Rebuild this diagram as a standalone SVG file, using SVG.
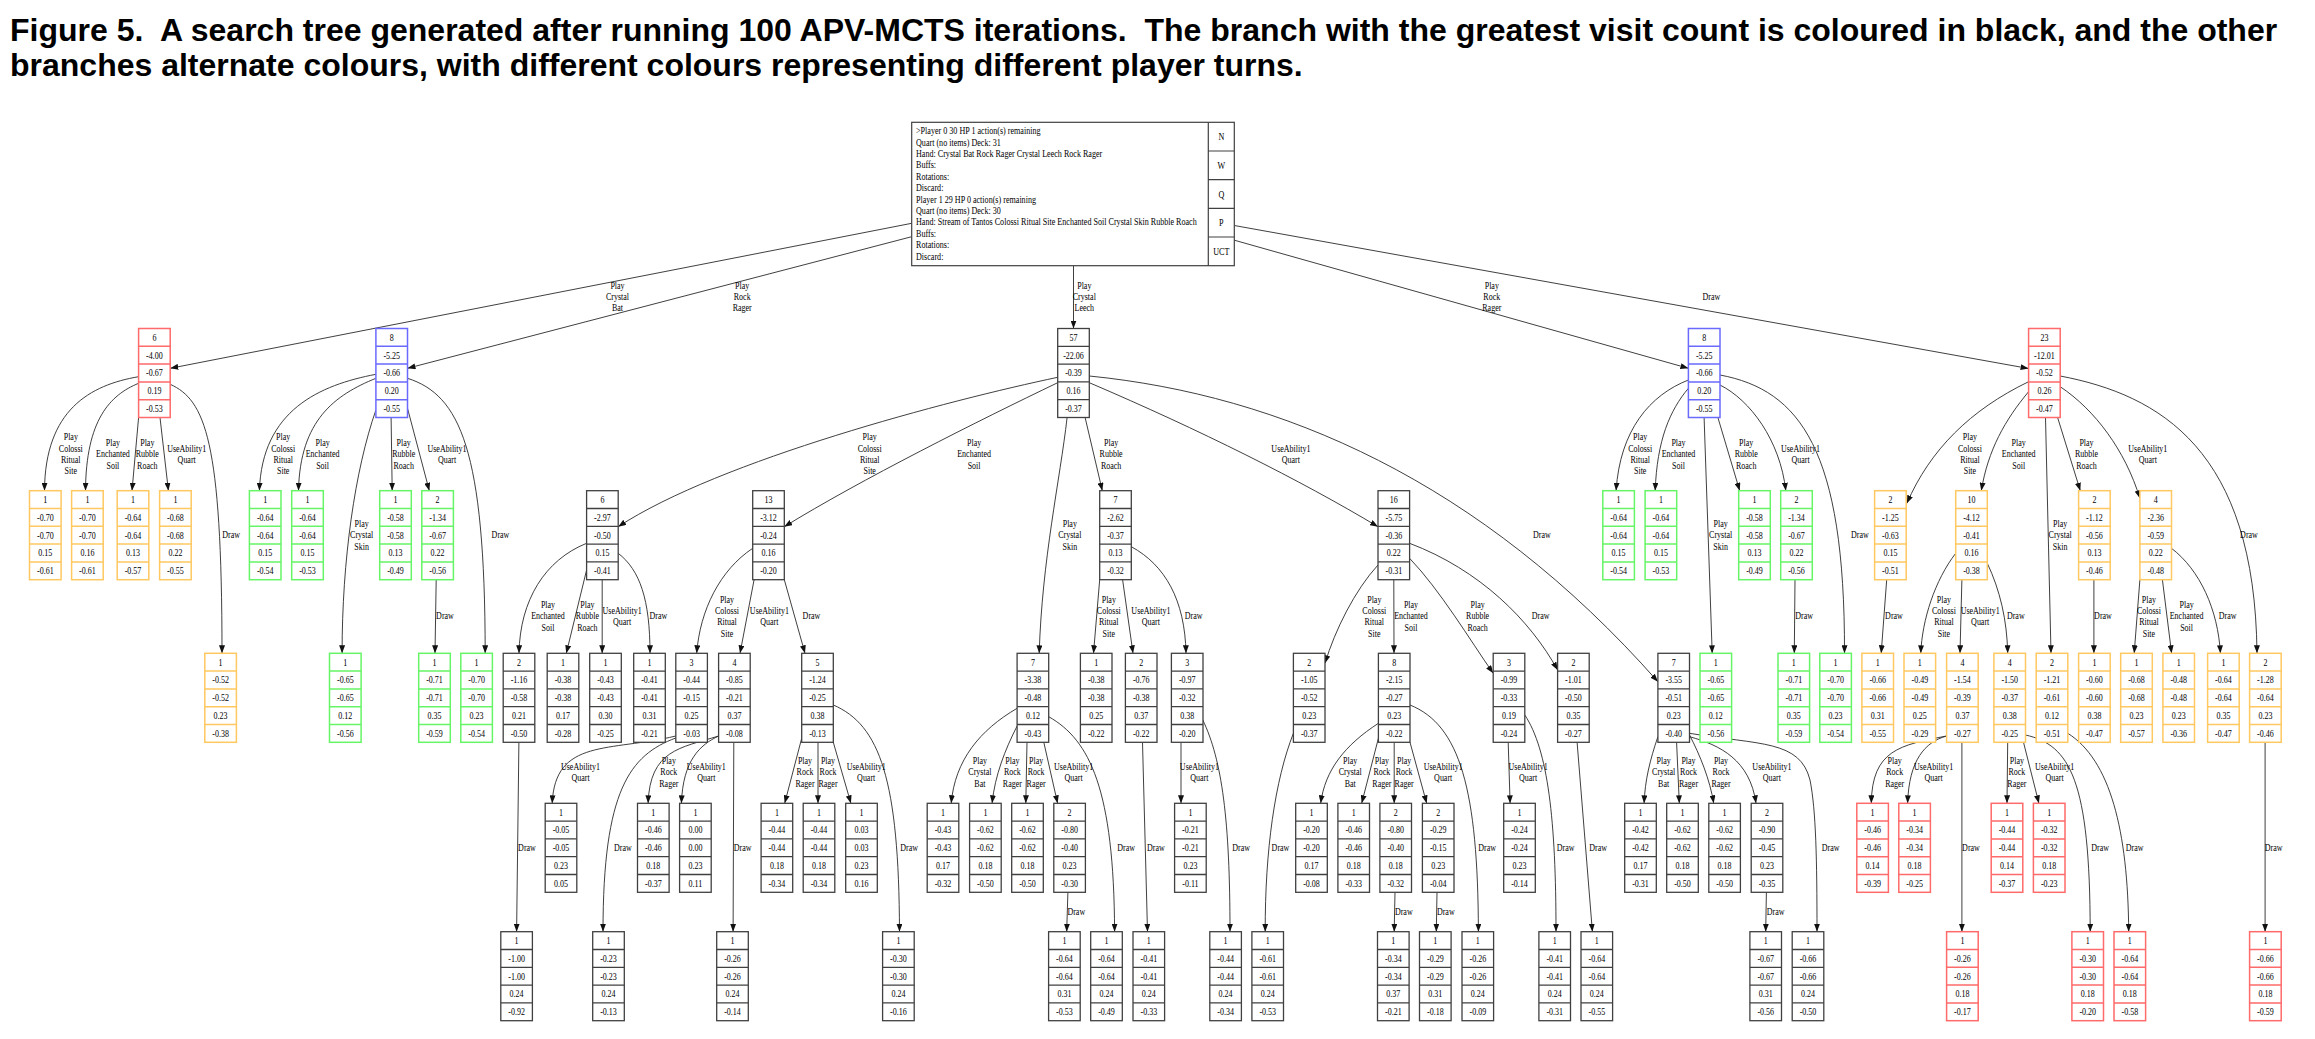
<svg xmlns="http://www.w3.org/2000/svg" width="2315" height="1039" viewBox="0 0 2315 1039">
<style>
text{font-family:"Liberation Serif","Times New Roman",serif;font-size:10px;fill:#000}
.ti{font-family:"Liberation Sans",Arial,sans-serif;font-weight:bold;font-size:32px;white-space:pre}
.n text,.l,.m{text-anchor:middle}
.v{transform:translate(15.8px,0px) scale(.8,1)}
.k{stroke:#404040;stroke-width:1.3}
.r{stroke:#ff6a6a;stroke-width:1.5}
.b{stroke:#6a6aff;stroke-width:1.5}
.g{stroke:#66f566;stroke-width:1.5}
.o{stroke:#ffc860;stroke-width:1.5}
#edges path{fill:none;stroke:#2a2a2a;stroke-width:.9;marker-end:url(#ah)}
</style>
<defs>
<marker id="ah" viewBox="0 0 8 6" refX="8" refY="3" markerWidth="8" markerHeight="6" markerUnits="userSpaceOnUse" orient="auto"><path d="M0,0L8,3L0,6z" fill="#111"/></marker>
<g id="bx"><rect width="31.6" height="89" fill="#fff"/><path d="M0,17.8h31.6M0,35.6h31.6M0,53.4h31.6M0,71.2h31.6" fill="none"/></g>
</defs>
<rect width="2315" height="1039" fill="#fff"/>
<text class="ti" x="10" y="41">Figure 5.  A search tree generated after running 100 APV-MCTS iterations.  The branch with the greatest visit count is coloured in black, and the other</text>
<text class="ti" x="10" y="76">branches alternate colours, with different colours representing different player turns.</text>

<g id="edges">
<path d="M911.7,223.3L170.3,368.3"/>
<path d="M911.7,236.7L407.5,368.3"/>
<path d="M1073.5,265.7L1073.5,328.5"/>
<path d="M1234.3,240.2L1688.4,368.3"/>
<path d="M1234.3,225.5L2028.6,368.5"/>
<path d="M138.6,376.7C90,385 45,410 44.5,490.7"/>
<path d="M138.6,383.3C110,395 86,420 85.5,490.7"/>
<path d="M138.6,417.5L132,490.7"/>
<path d="M160,417.5L168.4,490.7"/>
<path d="M170.2,384.3C205,400 222,440 222,653.3"/>
<path d="M375.9,374.3C320,385 262,410 259.4,490.7"/>
<path d="M375.9,378.3C335,395 300,420 298.5,490.7"/>
<path d="M375.9,410C355,470 342,560 342.1,653.3"/>
<path d="M391.1,417.5L392.2,490.7"/>
<path d="M407.5,408.3L429.3,490.7"/>
<path d="M407.5,378.3C460,395 485,450 485.2,653.3"/>
<path d="M436.2,579.7L435,653.3"/>
<path d="M1057.7,377.3C950,400 720,460 618.2,526.7"/>
<path d="M1057.7,382.7C980,420 860,480 784.3,526.7"/>
<path d="M1067.1,417.5C1060,480 1042,560 1039.2,653.3"/>
<path d="M1085.1,417.5L1102.3,490.7"/>
<path d="M1089.3,382.7C1200,430 1300,480 1378,526.7"/>
<path d="M1089.3,376C1280,395 1480,480 1657.9,681.7"/>
<path d="M586.6,543.3C545,560 520,600 519,653.3"/>
<path d="M586.6,570L566.3,653.3"/>
<path d="M602.2,579.7L602.2,653.3"/>
<path d="M618.2,553.3C640,570 650,600 650,653.3"/>
<path d="M752.7,548.3C720,570 700,610 696.7,653.3"/>
<path d="M754.1,579.7L740,653.3"/>
<path d="M784.3,579.7L805,653.3"/>
<path d="M1099.7,579.7L1093.5,653.3"/>
<path d="M1122.6,579.7L1133,653.3"/>
<path d="M1131.3,546.7C1165,565 1185,600 1186,653.3"/>
<path d="M1378,565C1355,590 1335,630 1325,663.3"/>
<path d="M1393.8,579.7L1394,653.3"/>
<path d="M1409.6,558.3C1440,590 1470,640 1493.2,673.3"/>
<path d="M1409.6,543.3C1480,570 1530,620 1557.6,670"/>
<path d="M518.9,742.3L516.6,931.7"/>
<path d="M675.8,736C610,752 555,738 552.2,803.3"/>
<path d="M675.8,738C630,755 603,790 603,931.7"/>
<path d="M718.6,736C680,748 650,750 648.1,803.3"/>
<path d="M718.6,736C700,745 683,760 681.4,803.3"/>
<path d="M733.8,742.3L733.1,931.7"/>
<path d="M801.7,738.3L784.7,803.3"/>
<path d="M818,742.3L818,803.3"/>
<path d="M833.3,742.3L850.9,803.3"/>
<path d="M833.3,705C880,725 899,780 899.5,931.7"/>
<path d="M1017.1,708.3C980,730 955,760 951.2,803.3"/>
<path d="M1017.1,726C1005,750 995,775 992.1,803.3"/>
<path d="M1027,742.3L1025.8,803.3"/>
<path d="M1043.8,742.3L1057.6,803.3"/>
<path d="M1048.7,716.7C1090,740 1114,790 1114.6,931.7"/>
<path d="M1067.9,892.3L1066.7,931.7"/>
<path d="M1142.5,742.3L1147.5,931.7"/>
<path d="M1181,742.3L1181,803.3"/>
<path d="M1202.8,720C1222,760 1230,820 1230,931.7"/>
<path d="M1293.4,733.3C1275,780 1265,850 1265.2,931.7"/>
<path d="M1378.4,723.3C1345,745 1325,770 1320.7,803.3"/>
<path d="M1378.4,738.3L1361.7,803.3"/>
<path d="M1394.2,742.3L1394.2,803.3"/>
<path d="M1410,742.3L1426.7,803.3"/>
<path d="M1410,705C1460,725 1478,790 1478.4,931.7"/>
<path d="M1395,892.3L1394.2,931.7"/>
<path d="M1437,892.3L1436.3,931.7"/>
<path d="M1508.2,742.3L1510.1,803.3"/>
<path d="M1524.8,715C1548,750 1556,820 1556,931.7"/>
<path d="M1577.1,742.3L1592.4,931.7"/>
<path d="M1657.9,736.7C1650,760 1645,780 1644.1,803.3"/>
<path d="M1676.6,742.3L1679.3,803.3"/>
<path d="M1689.5,735C1700,755 1710,780 1713.7,803.3"/>
<path d="M1689.5,736.7C1720,745 1750,760 1756,803.3"/>
<path d="M1689.5,733.3C1760,745 1800,740 1810,780C1816,810 1817,860 1817,931.7"/>
<path d="M1766.4,892.3L1765.7,931.7"/>
<path d="M1688.4,380C1650,395 1620,430 1616.1,490.7"/>
<path d="M1688.4,388.3C1670,410 1657,440 1655.2,490.7"/>
<path d="M1704.1,417.5L1712.2,653.3"/>
<path d="M1717.9,417.5L1739.7,490.7"/>
<path d="M1720,385C1750,400 1780,440 1785.8,490.7"/>
<path d="M1720,375C1800,390 1845,450 1844.5,653.3"/>
<path d="M1795,579.7L1794.3,653.3"/>
<path d="M2028.6,381.7C1970,410 1930,450 1906.9,503.3"/>
<path d="M2028.6,391.7C2005,420 1988,450 1981.3,490.7"/>
<path d="M2045.5,417.5L2051,653.3"/>
<path d="M2057.6,417.5L2080.3,490.7"/>
<path d="M2060.2,386.7C2095,410 2125,450 2139.9,498.3"/>
<path d="M2060.2,376C2160,395 2255,450 2257,653.3"/>
<path d="M1886.7,579.7L1881.2,653.3"/>
<path d="M1955.7,553.3C1935,580 1922,620 1920.8,653.3"/>
<path d="M1961.9,579.7L1960,653.3"/>
<path d="M1987.3,563.3C2000,590 2007,620 2007.7,653.3"/>
<path d="M2093.9,579.7L2093.9,653.3"/>
<path d="M2139.9,579.7L2134.2,653.3"/>
<path d="M2162.4,579.7L2171.6,653.3"/>
<path d="M2171.5,548.3C2200,570 2218,610 2220.4,653.3"/>
<path d="M1946.6,736C1900,745 1872,750 1871.3,803.3"/>
<path d="M1946.6,736C1925,742 1909,760 1907.6,803.3"/>
<path d="M1961.9,742.3L1961.9,931.7"/>
<path d="M2007.7,742.3L2007,803.3"/>
<path d="M2023.5,742.3L2038.9,803.3"/>
<path d="M2025.5,735C2070,745 2090,780 2090.2,931.7"/>
<path d="M2067.8,733.3C2110,760 2128,830 2128.7,931.7"/>
<path d="M2265.1,742.3L2265.1,931.7"/>
<g id="labels">
<text class="l" transform="matrix(.8 0 0 1 617.5 288.5)"><tspan x="0">Play</tspan><tspan x="0" dy="11.4">Crystal</tspan><tspan x="0" dy="11.4">Bat</tspan></text>
<text class="l" transform="matrix(.8 0 0 1 742.2 288.5)"><tspan x="0">Play</tspan><tspan x="0" dy="11.4">Rock</tspan><tspan x="0" dy="11.4">Rager</tspan></text>
<text class="l" transform="matrix(.8 0 0 1 1084.3 288.5)"><tspan x="0">Play</tspan><tspan x="0" dy="11.4">Crystal</tspan><tspan x="0" dy="11.4">Leech</tspan></text>
<text class="l" transform="matrix(.8 0 0 1 1491.8 288.5)"><tspan x="0">Play</tspan><tspan x="0" dy="11.4">Rock</tspan><tspan x="0" dy="11.4">Rager</tspan></text>
<text class="l" transform="matrix(.8 0 0 1 1711.4 300.2)">Draw</text>
<text class="l" transform="matrix(.8 0 0 1 70.8 440.2)"><tspan x="0">Play</tspan><tspan x="0" dy="11.4">Colossi</tspan><tspan x="0" dy="11.4">Ritual</tspan><tspan x="0" dy="11.4">Site</tspan></text>
<text class="l" transform="matrix(.8 0 0 1 112.9 445.8)"><tspan x="0">Play</tspan><tspan x="0" dy="11.4">Enchanted</tspan><tspan x="0" dy="11.4">Soil</tspan></text>
<text class="l" transform="matrix(.8 0 0 1 147.3 445.8)"><tspan x="0">Play</tspan><tspan x="0" dy="11.4">Rubble</tspan><tspan x="0" dy="11.4">Roach</tspan></text>
<text class="l" transform="matrix(.8 0 0 1 186.7 451.5)"><tspan x="0">UseAbility1</tspan><tspan x="0" dy="11.4">Quart</tspan></text>
<text class="l" transform="matrix(.8 0 0 1 231.1 537.8)">Draw</text>
<text class="l" transform="matrix(.8 0 0 1 283.2 440.2)"><tspan x="0">Play</tspan><tspan x="0" dy="11.4">Colossi</tspan><tspan x="0" dy="11.4">Ritual</tspan><tspan x="0" dy="11.4">Site</tspan></text>
<text class="l" transform="matrix(.8 0 0 1 322.6 445.8)"><tspan x="0">Play</tspan><tspan x="0" dy="11.4">Enchanted</tspan><tspan x="0" dy="11.4">Soil</tspan></text>
<text class="l" transform="matrix(.8 0 0 1 361.6 526.8)"><tspan x="0">Play</tspan><tspan x="0" dy="11.4">Crystal</tspan><tspan x="0" dy="11.4">Skin</tspan></text>
<text class="l" transform="matrix(.8 0 0 1 403.7 445.8)"><tspan x="0">Play</tspan><tspan x="0" dy="11.4">Rubble</tspan><tspan x="0" dy="11.4">Roach</tspan></text>
<text class="l" transform="matrix(.8 0 0 1 447 451.5)"><tspan x="0">UseAbility1</tspan><tspan x="0" dy="11.4">Quart</tspan></text>
<text class="l" transform="matrix(.8 0 0 1 500.5 537.8)">Draw</text>
<text class="l" transform="matrix(.8 0 0 1 445 619.2)">Draw</text>
<text class="l" transform="matrix(.8 0 0 1 869.7 440.2)"><tspan x="0">Play</tspan><tspan x="0" dy="11.4">Colossi</tspan><tspan x="0" dy="11.4">Ritual</tspan><tspan x="0" dy="11.4">Site</tspan></text>
<text class="l" transform="matrix(.8 0 0 1 974.1 445.8)"><tspan x="0">Play</tspan><tspan x="0" dy="11.4">Enchanted</tspan><tspan x="0" dy="11.4">Soil</tspan></text>
<text class="l" transform="matrix(.8 0 0 1 1069.8 526.8)"><tspan x="0">Play</tspan><tspan x="0" dy="11.4">Crystal</tspan><tspan x="0" dy="11.4">Skin</tspan></text>
<text class="l" transform="matrix(.8 0 0 1 1111.1 445.8)"><tspan x="0">Play</tspan><tspan x="0" dy="11.4">Rubble</tspan><tspan x="0" dy="11.4">Roach</tspan></text>
<text class="l" transform="matrix(.8 0 0 1 1290.9 451.5)"><tspan x="0">UseAbility1</tspan><tspan x="0" dy="11.4">Quart</tspan></text>
<text class="l" transform="matrix(.8 0 0 1 1541.9 537.8)">Draw</text>
<text class="l" transform="matrix(.8 0 0 1 548 607.8)"><tspan x="0">Play</tspan><tspan x="0" dy="11.4">Enchanted</tspan><tspan x="0" dy="11.4">Soil</tspan></text>
<text class="l" transform="matrix(.8 0 0 1 587.4 607.8)"><tspan x="0">Play</tspan><tspan x="0" dy="11.4">Rubble</tspan><tspan x="0" dy="11.4">Roach</tspan></text>
<text class="l" transform="matrix(.8 0 0 1 622.1 613.5)"><tspan x="0">UseAbility1</tspan><tspan x="0" dy="11.4">Quart</tspan></text>
<text class="l" transform="matrix(.8 0 0 1 658.4 619.2)">Draw</text>
<text class="l" transform="matrix(.8 0 0 1 727 602.5)"><tspan x="0">Play</tspan><tspan x="0" dy="11.4">Colossi</tspan><tspan x="0" dy="11.4">Ritual</tspan><tspan x="0" dy="11.4">Site</tspan></text>
<text class="l" transform="matrix(.8 0 0 1 769.4 613.5)"><tspan x="0">UseAbility1</tspan><tspan x="0" dy="11.4">Quart</tspan></text>
<text class="l" transform="matrix(.8 0 0 1 811.5 619.2)">Draw</text>
<text class="l" transform="matrix(.8 0 0 1 1108.8 602.5)"><tspan x="0">Play</tspan><tspan x="0" dy="11.4">Colossi</tspan><tspan x="0" dy="11.4">Ritual</tspan><tspan x="0" dy="11.4">Site</tspan></text>
<text class="l" transform="matrix(.8 0 0 1 1150.9 613.5)"><tspan x="0">UseAbility1</tspan><tspan x="0" dy="11.4">Quart</tspan></text>
<text class="l" transform="matrix(.8 0 0 1 1193.7 619.2)">Draw</text>
<text class="l" transform="matrix(.8 0 0 1 1374.3 602.5)"><tspan x="0">Play</tspan><tspan x="0" dy="11.4">Colossi</tspan><tspan x="0" dy="11.4">Ritual</tspan><tspan x="0" dy="11.4">Site</tspan></text>
<text class="l" transform="matrix(.8 0 0 1 1411 607.8)"><tspan x="0">Play</tspan><tspan x="0" dy="11.4">Enchanted</tspan><tspan x="0" dy="11.4">Soil</tspan></text>
<text class="l" transform="matrix(.8 0 0 1 1477.6 607.8)"><tspan x="0">Play</tspan><tspan x="0" dy="11.4">Rubble</tspan><tspan x="0" dy="11.4">Roach</tspan></text>
<text class="l" transform="matrix(.8 0 0 1 1540.7 619.2)">Draw</text>
<text class="l" transform="matrix(.8 0 0 1 527 851.2)">Draw</text>
<text class="l" transform="matrix(.8 0 0 1 580.5 769.5)"><tspan x="0">UseAbility1</tspan><tspan x="0" dy="11.4">Quart</tspan></text>
<text class="l" transform="matrix(.8 0 0 1 622.9 851.2)">Draw</text>
<text class="l" transform="matrix(.8 0 0 1 668.8 763.8)"><tspan x="0">Play</tspan><tspan x="0" dy="11.4">Rock</tspan><tspan x="0" dy="11.4">Rager</tspan></text>
<text class="l" transform="matrix(.8 0 0 1 706.3 769.5)"><tspan x="0">UseAbility1</tspan><tspan x="0" dy="11.4">Quart</tspan></text>
<text class="l" transform="matrix(.8 0 0 1 742.6 851.2)">Draw</text>
<text class="l" transform="matrix(.8 0 0 1 805 763.8)"><tspan x="0">Play</tspan><tspan x="0" dy="11.4">Rock</tspan><tspan x="0" dy="11.4">Rager</tspan></text>
<text class="l" transform="matrix(.8 0 0 1 828 763.8)"><tspan x="0">Play</tspan><tspan x="0" dy="11.4">Rock</tspan><tspan x="0" dy="11.4">Rager</tspan></text>
<text class="l" transform="matrix(.8 0 0 1 866.2 769.5)"><tspan x="0">UseAbility1</tspan><tspan x="0" dy="11.4">Quart</tspan></text>
<text class="l" transform="matrix(.8 0 0 1 909.1 851.2)">Draw</text>
<text class="l" transform="matrix(.8 0 0 1 979.9 763.8)"><tspan x="0">Play</tspan><tspan x="0" dy="11.4">Crystal</tspan><tspan x="0" dy="11.4">Bat</tspan></text>
<text class="l" transform="matrix(.8 0 0 1 1012.4 763.8)"><tspan x="0">Play</tspan><tspan x="0" dy="11.4">Rock</tspan><tspan x="0" dy="11.4">Rager</tspan></text>
<text class="l" transform="matrix(.8 0 0 1 1036.1 763.8)"><tspan x="0">Play</tspan><tspan x="0" dy="11.4">Rock</tspan><tspan x="0" dy="11.4">Rager</tspan></text>
<text class="l" transform="matrix(.8 0 0 1 1073.6 769.5)"><tspan x="0">UseAbility1</tspan><tspan x="0" dy="11.4">Quart</tspan></text>
<text class="l" transform="matrix(.8 0 0 1 1126.1 851.2)">Draw</text>
<text class="l" transform="matrix(.8 0 0 1 1076.3 914.5)">Draw</text>
<text class="l" transform="matrix(.8 0 0 1 1155.9 851.2)">Draw</text>
<text class="l" transform="matrix(.8 0 0 1 1199.4 769.5)"><tspan x="0">UseAbility1</tspan><tspan x="0" dy="11.4">Quart</tspan></text>
<text class="l" transform="matrix(.8 0 0 1 1241.1 851.2)">Draw</text>
<text class="l" transform="matrix(.8 0 0 1 1280.5 851.2)">Draw</text>
<text class="l" transform="matrix(.8 0 0 1 1350.2 763.8)"><tspan x="0">Play</tspan><tspan x="0" dy="11.4">Crystal</tspan><tspan x="0" dy="11.4">Bat</tspan></text>
<text class="l" transform="matrix(.8 0 0 1 1381.9 763.8)"><tspan x="0">Play</tspan><tspan x="0" dy="11.4">Rock</tspan><tspan x="0" dy="11.4">Rager</tspan></text>
<text class="l" transform="matrix(.8 0 0 1 1404.1 763.8)"><tspan x="0">Play</tspan><tspan x="0" dy="11.4">Rock</tspan><tspan x="0" dy="11.4">Rager</tspan></text>
<text class="l" transform="matrix(.8 0 0 1 1443.2 769.5)"><tspan x="0">UseAbility1</tspan><tspan x="0" dy="11.4">Quart</tspan></text>
<text class="l" transform="matrix(.8 0 0 1 1487.2 851.2)">Draw</text>
<text class="l" transform="matrix(.8 0 0 1 1403.8 914.5)">Draw</text>
<text class="l" transform="matrix(.8 0 0 1 1445.8 914.5)">Draw</text>
<text class="l" transform="matrix(.8 0 0 1 1528.1 769.5)"><tspan x="0">UseAbility1</tspan><tspan x="0" dy="11.4">Quart</tspan></text>
<text class="l" transform="matrix(.8 0 0 1 1565.6 851.2)">Draw</text>
<text class="l" transform="matrix(.8 0 0 1 1598.1 851.2)">Draw</text>
<text class="l" transform="matrix(.8 0 0 1 1663.6 763.8)"><tspan x="0">Play</tspan><tspan x="0" dy="11.4">Crystal</tspan><tspan x="0" dy="11.4">Bat</tspan></text>
<text class="l" transform="matrix(.8 0 0 1 1688.5 763.8)"><tspan x="0">Play</tspan><tspan x="0" dy="11.4">Rock</tspan><tspan x="0" dy="11.4">Rager</tspan></text>
<text class="l" transform="matrix(.8 0 0 1 1721 763.8)"><tspan x="0">Play</tspan><tspan x="0" dy="11.4">Rock</tspan><tspan x="0" dy="11.4">Rager</tspan></text>
<text class="l" transform="matrix(.8 0 0 1 1771.9 769.5)"><tspan x="0">UseAbility1</tspan><tspan x="0" dy="11.4">Quart</tspan></text>
<text class="l" transform="matrix(.8 0 0 1 1830.6 851.2)">Draw</text>
<text class="l" transform="matrix(.8 0 0 1 1775.6 914.5)">Draw</text>
<text class="l" transform="matrix(.8 0 0 1 1640.2 440.2)"><tspan x="0">Play</tspan><tspan x="0" dy="11.4">Colossi</tspan><tspan x="0" dy="11.4">Ritual</tspan><tspan x="0" dy="11.4">Site</tspan></text>
<text class="l" transform="matrix(.8 0 0 1 1678.5 445.8)"><tspan x="0">Play</tspan><tspan x="0" dy="11.4">Enchanted</tspan><tspan x="0" dy="11.4">Soil</tspan></text>
<text class="l" transform="matrix(.8 0 0 1 1720.6 526.8)"><tspan x="0">Play</tspan><tspan x="0" dy="11.4">Crystal</tspan><tspan x="0" dy="11.4">Skin</tspan></text>
<text class="l" transform="matrix(.8 0 0 1 1746.2 445.8)"><tspan x="0">Play</tspan><tspan x="0" dy="11.4">Rubble</tspan><tspan x="0" dy="11.4">Roach</tspan></text>
<text class="l" transform="matrix(.8 0 0 1 1800.5 451.5)"><tspan x="0">UseAbility1</tspan><tspan x="0" dy="11.4">Quart</tspan></text>
<text class="l" transform="matrix(.8 0 0 1 1859.9 537.8)">Draw</text>
<text class="l" transform="matrix(.8 0 0 1 1804.2 619.2)">Draw</text>
<text class="l" transform="matrix(.8 0 0 1 1969.9 440.2)"><tspan x="0">Play</tspan><tspan x="0" dy="11.4">Colossi</tspan><tspan x="0" dy="11.4">Ritual</tspan><tspan x="0" dy="11.4">Site</tspan></text>
<text class="l" transform="matrix(.8 0 0 1 2018.7 445.8)"><tspan x="0">Play</tspan><tspan x="0" dy="11.4">Enchanted</tspan><tspan x="0" dy="11.4">Soil</tspan></text>
<text class="l" transform="matrix(.8 0 0 1 2060.1 526.8)"><tspan x="0">Play</tspan><tspan x="0" dy="11.4">Crystal</tspan><tspan x="0" dy="11.4">Skin</tspan></text>
<text class="l" transform="matrix(.8 0 0 1 2086.5 445.8)"><tspan x="0">Play</tspan><tspan x="0" dy="11.4">Rubble</tspan><tspan x="0" dy="11.4">Roach</tspan></text>
<text class="l" transform="matrix(.8 0 0 1 2147.8 451.5)"><tspan x="0">UseAbility1</tspan><tspan x="0" dy="11.4">Quart</tspan></text>
<text class="l" transform="matrix(.8 0 0 1 2249 537.8)">Draw</text>
<text class="l" transform="matrix(.8 0 0 1 1894 619.2)">Draw</text>
<text class="l" transform="matrix(.8 0 0 1 1943.9 602.5)"><tspan x="0">Play</tspan><tspan x="0" dy="11.4">Colossi</tspan><tspan x="0" dy="11.4">Ritual</tspan><tspan x="0" dy="11.4">Site</tspan></text>
<text class="l" transform="matrix(.8 0 0 1 1980.2 613.5)"><tspan x="0">UseAbility1</tspan><tspan x="0" dy="11.4">Quart</tspan></text>
<text class="l" transform="matrix(.8 0 0 1 2015.8 619.2)">Draw</text>
<text class="l" transform="matrix(.8 0 0 1 2103 619.2)">Draw</text>
<text class="l" transform="matrix(.8 0 0 1 2148.9 602.5)"><tspan x="0">Play</tspan><tspan x="0" dy="11.4">Colossi</tspan><tspan x="0" dy="11.4">Ritual</tspan><tspan x="0" dy="11.4">Site</tspan></text>
<text class="l" transform="matrix(.8 0 0 1 2186.6 607.8)"><tspan x="0">Play</tspan><tspan x="0" dy="11.4">Enchanted</tspan><tspan x="0" dy="11.4">Soil</tspan></text>
<text class="l" transform="matrix(.8 0 0 1 2227.7 619.2)">Draw</text>
<text class="l" transform="matrix(.8 0 0 1 1894.7 763.8)"><tspan x="0">Play</tspan><tspan x="0" dy="11.4">Rock</tspan><tspan x="0" dy="11.4">Rager</tspan></text>
<text class="l" transform="matrix(.8 0 0 1 1933.6 769.5)"><tspan x="0">UseAbility1</tspan><tspan x="0" dy="11.4">Quart</tspan></text>
<text class="l" transform="matrix(.8 0 0 1 1971 851.2)">Draw</text>
<text class="l" transform="matrix(.8 0 0 1 2016.9 763.8)"><tspan x="0">Play</tspan><tspan x="0" dy="11.4">Rock</tspan><tspan x="0" dy="11.4">Rager</tspan></text>
<text class="l" transform="matrix(.8 0 0 1 2054.6 769.5)"><tspan x="0">UseAbility1</tspan><tspan x="0" dy="11.4">Quart</tspan></text>
<text class="l" transform="matrix(.8 0 0 1 2100.1 851.2)">Draw</text>
<text class="l" transform="matrix(.8 0 0 1 2134.6 851.2)">Draw</text>
<text class="l" transform="matrix(.8 0 0 1 2273.6 851.2)">Draw</text>
</g>
</g>

<g id="root">
<rect x="911.7" y="122.3" width="322.6" height="143.4" fill="#fff" stroke="#404040" stroke-width="1.2"/>
<path d="M1208.3,122.3V265.7M1208.3,151H1234.3M1208.3,179.7H1234.3M1208.3,208.3H1234.3M1208.3,237H1234.3" fill="none" stroke="#404040" stroke-width="1.2"/>
<text transform="matrix(.81 0 0 1 916 134.2)"><tspan x="0">&gt;Player 0 30 HP 1 action(s) remaining</tspan><tspan x="0" dy="11.4">Quart (no items) Deck: 31</tspan><tspan x="0" dy="11.4">Hand: Crystal Bat Rock Rager Crystal Leech Rock Rager</tspan><tspan x="0" dy="11.4">Buffs:</tspan><tspan x="0" dy="11.4">Rotations:</tspan><tspan x="0" dy="11.4">Discard:</tspan><tspan x="0" dy="11.4">Player 1 29 HP 0 action(s) remaining</tspan><tspan x="0" dy="11.4">Quart (no items) Deck: 30</tspan><tspan x="0" dy="11.4">Hand: Stream of Tantos Colossi Ritual Site Enchanted Soil Crystal Skin Rubble Roach</tspan><tspan x="0" dy="11.4">Buffs:</tspan><tspan x="0" dy="11.4">Rotations:</tspan><tspan x="0" dy="11.4">Discard:</tspan></text>
<text class="m" transform="matrix(.81 0 0 1 1221.3 140.2)">N</text>
<text class="m" transform="matrix(.81 0 0 1 1221.3 168.9)">W</text>
<text class="m" transform="matrix(.81 0 0 1 1221.3 197.5)">Q</text>
<text class="m" transform="matrix(.81 0 0 1 1221.3 226.2)">P</text>
<text class="m" transform="matrix(.81 0 0 1 1221.3 254.9)">UCT</text>
</g>

<g id="n1" class="n" transform="translate(138.6 328.5)"><use href="#bx" class="r"/><g class="v"><text y="12.4">6</text><text y="30.2">-4.00</text><text y="48">-0.67</text><text y="65.8">0.19</text><text y="83.6">-0.53</text></g></g>
<g id="n2" class="n" transform="translate(375.9 328.5)"><use href="#bx" class="b"/><g class="v"><text y="12.4">8</text><text y="30.2">-5.25</text><text y="48">-0.66</text><text y="65.8">0.20</text><text y="83.6">-0.55</text></g></g>
<g id="n3" class="n" transform="translate(1057.7 328.5)"><use href="#bx" class="k"/><g class="v"><text y="12.4">57</text><text y="30.2">-22.06</text><text y="48">-0.39</text><text y="65.8">0.16</text><text y="83.6">-0.37</text></g></g>
<g id="n4" class="n" transform="translate(1688.4 328.5)"><use href="#bx" class="b"/><g class="v"><text y="12.4">8</text><text y="30.2">-5.25</text><text y="48">-0.66</text><text y="65.8">0.20</text><text y="83.6">-0.55</text></g></g>
<g id="n5" class="n" transform="translate(2028.6 328.5)"><use href="#bx" class="r"/><g class="v"><text y="12.4">23</text><text y="30.2">-12.01</text><text y="48">-0.52</text><text y="65.8">0.26</text><text y="83.6">-0.47</text></g></g>

<g id="a1" class="n" transform="translate(29.5 490.7)"><use href="#bx" class="o"/><g class="v"><text y="12.4">1</text><text y="30.2">-0.70</text><text y="48">-0.70</text><text y="65.8">0.15</text><text y="83.6">-0.61</text></g></g>
<g id="a2" class="n" transform="translate(71.6 490.7)"><use href="#bx" class="o"/><g class="v"><text y="12.4">1</text><text y="30.2">-0.70</text><text y="48">-0.70</text><text y="65.8">0.16</text><text y="83.6">-0.61</text></g></g>
<g id="a3" class="n" transform="translate(117.2 490.7)"><use href="#bx" class="o"/><g class="v"><text y="12.4">1</text><text y="30.2">-0.64</text><text y="48">-0.64</text><text y="65.8">0.13</text><text y="83.6">-0.57</text></g></g>
<g id="a4" class="n" transform="translate(159.6 490.7)"><use href="#bx" class="o"/><g class="v"><text y="12.4">1</text><text y="30.2">-0.68</text><text y="48">-0.68</text><text y="65.8">0.22</text><text y="83.6">-0.55</text></g></g>
<g id="b1" class="n" transform="translate(249.4 490.7)"><use href="#bx" class="g"/><g class="v"><text y="12.4">1</text><text y="30.2">-0.64</text><text y="48">-0.64</text><text y="65.8">0.15</text><text y="83.6">-0.54</text></g></g>
<g id="b2" class="n" transform="translate(291.7 490.7)"><use href="#bx" class="g"/><g class="v"><text y="12.4">1</text><text y="30.2">-0.64</text><text y="48">-0.64</text><text y="65.8">0.15</text><text y="83.6">-0.53</text></g></g>
<g id="b3" class="n" transform="translate(379.7 490.7)"><use href="#bx" class="g"/><g class="v"><text y="12.4">1</text><text y="30.2">-0.58</text><text y="48">-0.58</text><text y="65.8">0.13</text><text y="83.6">-0.49</text></g></g>
<g id="b4" class="n" transform="translate(421.8 490.7)"><use href="#bx" class="g"/><g class="v"><text y="12.4">2</text><text y="30.2">-1.34</text><text y="48">-0.67</text><text y="65.8">0.22</text><text y="83.6">-0.56</text></g></g>
<g id="c1" class="n" transform="translate(586.6 490.7)"><use href="#bx" class="k"/><g class="v"><text y="12.4">6</text><text y="30.2">-2.97</text><text y="48">-0.50</text><text y="65.8">0.15</text><text y="83.6">-0.41</text></g></g>
<g id="c2" class="n" transform="translate(752.7 490.7)"><use href="#bx" class="k"/><g class="v"><text y="12.4">13</text><text y="30.2">-3.12</text><text y="48">-0.24</text><text y="65.8">0.16</text><text y="83.6">-0.20</text></g></g>
<g id="c3" class="n" transform="translate(1099.7 490.7)"><use href="#bx" class="k"/><g class="v"><text y="12.4">7</text><text y="30.2">-2.62</text><text y="48">-0.37</text><text y="65.8">0.13</text><text y="83.6">-0.32</text></g></g>
<g id="c4" class="n" transform="translate(1378 490.7)"><use href="#bx" class="k"/><g class="v"><text y="12.4">16</text><text y="30.2">-5.75</text><text y="48">-0.36</text><text y="65.8">0.22</text><text y="83.6">-0.31</text></g></g>
<g id="d1" class="n" transform="translate(1602.8 490.7)"><use href="#bx" class="g"/><g class="v"><text y="12.4">1</text><text y="30.2">-0.64</text><text y="48">-0.64</text><text y="65.8">0.15</text><text y="83.6">-0.54</text></g></g>
<g id="d2" class="n" transform="translate(1645.1 490.7)"><use href="#bx" class="g"/><g class="v"><text y="12.4">1</text><text y="30.2">-0.64</text><text y="48">-0.64</text><text y="65.8">0.15</text><text y="83.6">-0.53</text></g></g>
<g id="d3" class="n" transform="translate(1738.7 490.7)"><use href="#bx" class="g"/><g class="v"><text y="12.4">1</text><text y="30.2">-0.58</text><text y="48">-0.58</text><text y="65.8">0.13</text><text y="83.6">-0.49</text></g></g>
<g id="d4" class="n" transform="translate(1780.7 490.7)"><use href="#bx" class="g"/><g class="v"><text y="12.4">2</text><text y="30.2">-1.34</text><text y="48">-0.67</text><text y="65.8">0.22</text><text y="83.6">-0.56</text></g></g>
<g id="e1" class="n" transform="translate(1874.6 490.7)"><use href="#bx" class="o"/><g class="v"><text y="12.4">2</text><text y="30.2">-1.25</text><text y="48">-0.63</text><text y="65.8">0.15</text><text y="83.6">-0.51</text></g></g>
<g id="e2" class="n" transform="translate(1955.7 490.7)"><use href="#bx" class="o"/><g class="v"><text y="12.4">10</text><text y="30.2">-4.12</text><text y="48">-0.41</text><text y="65.8">0.16</text><text y="83.6">-0.38</text></g></g>
<g id="e3" class="n" transform="translate(2078.6 490.7)"><use href="#bx" class="o"/><g class="v"><text y="12.4">2</text><text y="30.2">-1.12</text><text y="48">-0.56</text><text y="65.8">0.13</text><text y="83.6">-0.46</text></g></g>
<g id="e4" class="n" transform="translate(2139.9 490.7)"><use href="#bx" class="o"/><g class="v"><text y="12.4">4</text><text y="30.2">-2.36</text><text y="48">-0.59</text><text y="65.8">0.22</text><text y="83.6">-0.48</text></g></g>

<g id="f1" class="n" transform="translate(204.8 653.3)"><use href="#bx" class="o"/><g class="v"><text y="12.4">1</text><text y="30.2">-0.52</text><text y="48">-0.52</text><text y="65.8">0.23</text><text y="83.6">-0.38</text></g></g>
<g id="f2" class="n" transform="translate(329.5 653.3)"><use href="#bx" class="g"/><g class="v"><text y="12.4">1</text><text y="30.2">-0.65</text><text y="48">-0.65</text><text y="65.8">0.12</text><text y="83.6">-0.56</text></g></g>
<g id="f3" class="n" transform="translate(418.7 653.3)"><use href="#bx" class="g"/><g class="v"><text y="12.4">1</text><text y="30.2">-0.71</text><text y="48">-0.71</text><text y="65.8">0.35</text><text y="83.6">-0.59</text></g></g>
<g id="f4" class="n" transform="translate(460.8 653.3)"><use href="#bx" class="g"/><g class="v"><text y="12.4">1</text><text y="30.2">-0.70</text><text y="48">-0.70</text><text y="65.8">0.23</text><text y="83.6">-0.54</text></g></g>
<g id="f5" class="n" transform="translate(503.2 653.3)"><use href="#bx" class="k"/><g class="v"><text y="12.4">2</text><text y="30.2">-1.16</text><text y="48">-0.58</text><text y="65.8">0.21</text><text y="83.6">-0.50</text></g></g>
<g id="f6" class="n" transform="translate(547.2 653.3)"><use href="#bx" class="k"/><g class="v"><text y="12.4">1</text><text y="30.2">-0.38</text><text y="48">-0.38</text><text y="65.8">0.17</text><text y="83.6">-0.28</text></g></g>
<g id="f7" class="n" transform="translate(589.7 653.3)"><use href="#bx" class="k"/><g class="v"><text y="12.4">1</text><text y="30.2">-0.43</text><text y="48">-0.43</text><text y="65.8">0.30</text><text y="83.6">-0.25</text></g></g>
<g id="f8" class="n" transform="translate(633.7 653.3)"><use href="#bx" class="k"/><g class="v"><text y="12.4">1</text><text y="30.2">-0.41</text><text y="48">-0.41</text><text y="65.8">0.31</text><text y="83.6">-0.21</text></g></g>
<g id="f9" class="n" transform="translate(675.8 653.3)"><use href="#bx" class="k"/><g class="v"><text y="12.4">3</text><text y="30.2">-0.44</text><text y="48">-0.15</text><text y="65.8">0.25</text><text y="83.6">-0.03</text></g></g>
<g id="f10" class="n" transform="translate(718.6 653.3)"><use href="#bx" class="k"/><g class="v"><text y="12.4">4</text><text y="30.2">-0.85</text><text y="48">-0.21</text><text y="65.8">0.37</text><text y="83.6">-0.08</text></g></g>
<g id="f11" class="n" transform="translate(801.7 653.3)"><use href="#bx" class="k"/><g class="v"><text y="12.4">5</text><text y="30.2">-1.24</text><text y="48">-0.25</text><text y="65.8">0.38</text><text y="83.6">-0.13</text></g></g>
<g id="f12" class="n" transform="translate(1017.1 653.3)"><use href="#bx" class="k"/><g class="v"><text y="12.4">7</text><text y="30.2">-3.38</text><text y="48">-0.48</text><text y="65.8">0.12</text><text y="83.6">-0.43</text></g></g>
<g id="f13" class="n" transform="translate(1080.4 653.3)"><use href="#bx" class="k"/><g class="v"><text y="12.4">1</text><text y="30.2">-0.38</text><text y="48">-0.38</text><text y="65.8">0.25</text><text y="83.6">-0.22</text></g></g>
<g id="f14" class="n" transform="translate(1125.4 653.3)"><use href="#bx" class="k"/><g class="v"><text y="12.4">2</text><text y="30.2">-0.76</text><text y="48">-0.38</text><text y="65.8">0.37</text><text y="83.6">-0.22</text></g></g>
<g id="f15" class="n" transform="translate(1171.4 653.3)"><use href="#bx" class="k"/><g class="v"><text y="12.4">3</text><text y="30.2">-0.97</text><text y="48">-0.32</text><text y="65.8">0.38</text><text y="83.6">-0.20</text></g></g>
<g id="f16" class="n" transform="translate(1293.4 653.3)"><use href="#bx" class="k"/><g class="v"><text y="12.4">2</text><text y="30.2">-1.05</text><text y="48">-0.52</text><text y="65.8">0.23</text><text y="83.6">-0.37</text></g></g>
<g id="f17" class="n" transform="translate(1378.4 653.3)"><use href="#bx" class="k"/><g class="v"><text y="12.4">8</text><text y="30.2">-2.15</text><text y="48">-0.27</text><text y="65.8">0.23</text><text y="83.6">-0.22</text></g></g>
<g id="f18" class="n" transform="translate(1493.2 653.3)"><use href="#bx" class="k"/><g class="v"><text y="12.4">3</text><text y="30.2">-0.99</text><text y="48">-0.33</text><text y="65.8">0.19</text><text y="83.6">-0.24</text></g></g>
<g id="f19" class="n" transform="translate(1557.6 653.3)"><use href="#bx" class="k"/><g class="v"><text y="12.4">2</text><text y="30.2">-1.01</text><text y="48">-0.50</text><text y="65.8">0.35</text><text y="83.6">-0.27</text></g></g>
<g id="f20" class="n" transform="translate(1657.9 653.3)"><use href="#bx" class="k"/><g class="v"><text y="12.4">7</text><text y="30.2">-3.55</text><text y="48">-0.51</text><text y="65.8">0.23</text><text y="83.6">-0.40</text></g></g>
<g id="f21" class="n" transform="translate(1700 653.3)"><use href="#bx" class="g"/><g class="v"><text y="12.4">1</text><text y="30.2">-0.65</text><text y="48">-0.65</text><text y="65.8">0.12</text><text y="83.6">-0.56</text></g></g>
<g id="f22" class="n" transform="translate(1778 653.3)"><use href="#bx" class="g"/><g class="v"><text y="12.4">1</text><text y="30.2">-0.71</text><text y="48">-0.71</text><text y="65.8">0.35</text><text y="83.6">-0.59</text></g></g>
<g id="f23" class="n" transform="translate(1819.8 653.3)"><use href="#bx" class="g"/><g class="v"><text y="12.4">1</text><text y="30.2">-0.70</text><text y="48">-0.70</text><text y="65.8">0.23</text><text y="83.6">-0.54</text></g></g>
<g id="f24" class="n" transform="translate(1861.9 653.3)"><use href="#bx" class="o"/><g class="v"><text y="12.4">1</text><text y="30.2">-0.66</text><text y="48">-0.66</text><text y="65.8">0.31</text><text y="83.6">-0.55</text></g></g>
<g id="f25" class="n" transform="translate(1904 653.3)"><use href="#bx" class="o"/><g class="v"><text y="12.4">1</text><text y="30.2">-0.49</text><text y="48">-0.49</text><text y="65.8">0.25</text><text y="83.6">-0.29</text></g></g>
<g id="f26" class="n" transform="translate(1946.6 653.3)"><use href="#bx" class="o"/><g class="v"><text y="12.4">4</text><text y="30.2">-1.54</text><text y="48">-0.39</text><text y="65.8">0.37</text><text y="83.6">-0.27</text></g></g>
<g id="f27" class="n" transform="translate(1993.9 653.3)"><use href="#bx" class="o"/><g class="v"><text y="12.4">4</text><text y="30.2">-1.50</text><text y="48">-0.37</text><text y="65.8">0.38</text><text y="83.6">-0.25</text></g></g>
<g id="f28" class="n" transform="translate(2036.2 653.3)"><use href="#bx" class="o"/><g class="v"><text y="12.4">2</text><text y="30.2">-1.21</text><text y="48">-0.61</text><text y="65.8">0.12</text><text y="83.6">-0.51</text></g></g>
<g id="f29" class="n" transform="translate(2078.6 653.3)"><use href="#bx" class="o"/><g class="v"><text y="12.4">1</text><text y="30.2">-0.60</text><text y="48">-0.60</text><text y="65.8">0.38</text><text y="83.6">-0.47</text></g></g>
<g id="f30" class="n" transform="translate(2120.7 653.3)"><use href="#bx" class="o"/><g class="v"><text y="12.4">1</text><text y="30.2">-0.68</text><text y="48">-0.68</text><text y="65.8">0.23</text><text y="83.6">-0.57</text></g></g>
<g id="f31" class="n" transform="translate(2162.9 653.3)"><use href="#bx" class="o"/><g class="v"><text y="12.4">1</text><text y="30.2">-0.48</text><text y="48">-0.48</text><text y="65.8">0.23</text><text y="83.6">-0.36</text></g></g>
<g id="f32" class="n" transform="translate(2207.6 653.3)"><use href="#bx" class="o"/><g class="v"><text y="12.4">1</text><text y="30.2">-0.64</text><text y="48">-0.64</text><text y="65.8">0.35</text><text y="83.6">-0.47</text></g></g>
<g id="f33" class="n" transform="translate(2249.6 653.3)"><use href="#bx" class="o"/><g class="v"><text y="12.4">2</text><text y="30.2">-1.28</text><text y="48">-0.64</text><text y="65.8">0.23</text><text y="83.6">-0.46</text></g></g>

<g id="g1" class="n" transform="translate(545.2 803.3)"><use href="#bx" class="k"/><g class="v"><text y="12.4">1</text><text y="30.2">-0.05</text><text y="48">-0.05</text><text y="65.8">0.23</text><text y="83.6">0.05</text></g></g>
<g id="g2" class="n" transform="translate(637.5 803.3)"><use href="#bx" class="k"/><g class="v"><text y="12.4">1</text><text y="30.2">-0.46</text><text y="48">-0.46</text><text y="65.8">0.18</text><text y="83.6">-0.37</text></g></g>
<g id="g3" class="n" transform="translate(679.6 803.3)"><use href="#bx" class="k"/><g class="v"><text y="12.4">1</text><text y="30.2">0.00</text><text y="48">0.00</text><text y="65.8">0.23</text><text y="83.6">0.11</text></g></g>
<g id="g4" class="n" transform="translate(761.1 803.3)"><use href="#bx" class="k"/><g class="v"><text y="12.4">1</text><text y="30.2">-0.44</text><text y="48">-0.44</text><text y="65.8">0.18</text><text y="83.6">-0.34</text></g></g>
<g id="g5" class="n" transform="translate(803.2 803.3)"><use href="#bx" class="k"/><g class="v"><text y="12.4">1</text><text y="30.2">-0.44</text><text y="48">-0.44</text><text y="65.8">0.18</text><text y="83.6">-0.34</text></g></g>
<g id="g6" class="n" transform="translate(845.7 803.3)"><use href="#bx" class="k"/><g class="v"><text y="12.4">1</text><text y="30.2">0.03</text><text y="48">0.03</text><text y="65.8">0.23</text><text y="83.6">0.16</text></g></g>
<g id="g7" class="n" transform="translate(927.2 803.3)"><use href="#bx" class="k"/><g class="v"><text y="12.4">1</text><text y="30.2">-0.43</text><text y="48">-0.43</text><text y="65.8">0.17</text><text y="83.6">-0.32</text></g></g>
<g id="g8" class="n" transform="translate(969.6 803.3)"><use href="#bx" class="k"/><g class="v"><text y="12.4">1</text><text y="30.2">-0.62</text><text y="48">-0.62</text><text y="65.8">0.18</text><text y="83.6">-0.50</text></g></g>
<g id="g9" class="n" transform="translate(1011.7 803.3)"><use href="#bx" class="k"/><g class="v"><text y="12.4">1</text><text y="30.2">-0.62</text><text y="48">-0.62</text><text y="65.8">0.18</text><text y="83.6">-0.50</text></g></g>
<g id="g10" class="n" transform="translate(1053.8 803.3)"><use href="#bx" class="k"/><g class="v"><text y="12.4">2</text><text y="30.2">-0.80</text><text y="48">-0.40</text><text y="65.8">0.23</text><text y="83.6">-0.30</text></g></g>
<g id="g11" class="n" transform="translate(1174.6 803.3)"><use href="#bx" class="k"/><g class="v"><text y="12.4">1</text><text y="30.2">-0.21</text><text y="48">-0.21</text><text y="65.8">0.23</text><text y="83.6">-0.11</text></g></g>
<g id="g12" class="n" transform="translate(1295.7 803.3)"><use href="#bx" class="k"/><g class="v"><text y="12.4">1</text><text y="30.2">-0.20</text><text y="48">-0.20</text><text y="65.8">0.17</text><text y="83.6">-0.08</text></g></g>
<g id="g13" class="n" transform="translate(1337.9 803.3)"><use href="#bx" class="k"/><g class="v"><text y="12.4">1</text><text y="30.2">-0.46</text><text y="48">-0.46</text><text y="65.8">0.18</text><text y="83.6">-0.33</text></g></g>
<g id="g14" class="n" transform="translate(1379.9 803.3)"><use href="#bx" class="k"/><g class="v"><text y="12.4">2</text><text y="30.2">-0.80</text><text y="48">-0.40</text><text y="65.8">0.18</text><text y="83.6">-0.32</text></g></g>
<g id="g15" class="n" transform="translate(1422.4 803.3)"><use href="#bx" class="k"/><g class="v"><text y="12.4">2</text><text y="30.2">-0.29</text><text y="48">-0.15</text><text y="65.8">0.23</text><text y="83.6">-0.04</text></g></g>
<g id="g16" class="n" transform="translate(1503.7 803.3)"><use href="#bx" class="k"/><g class="v"><text y="12.4">1</text><text y="30.2">-0.24</text><text y="48">-0.24</text><text y="65.8">0.23</text><text y="83.6">-0.14</text></g></g>
<g id="g17" class="n" transform="translate(1624.7 803.3)"><use href="#bx" class="k"/><g class="v"><text y="12.4">1</text><text y="30.2">-0.42</text><text y="48">-0.42</text><text y="65.8">0.17</text><text y="83.6">-0.31</text></g></g>
<g id="g18" class="n" transform="translate(1666.7 803.3)"><use href="#bx" class="k"/><g class="v"><text y="12.4">1</text><text y="30.2">-0.62</text><text y="48">-0.62</text><text y="65.8">0.18</text><text y="83.6">-0.50</text></g></g>
<g id="g19" class="n" transform="translate(1708.8 803.3)"><use href="#bx" class="k"/><g class="v"><text y="12.4">1</text><text y="30.2">-0.62</text><text y="48">-0.62</text><text y="65.8">0.18</text><text y="83.6">-0.50</text></g></g>
<g id="g20" class="n" transform="translate(1751.2 803.3)"><use href="#bx" class="k"/><g class="v"><text y="12.4">2</text><text y="30.2">-0.90</text><text y="48">-0.45</text><text y="65.8">0.23</text><text y="83.6">-0.35</text></g></g>
<g id="g21" class="n" transform="translate(1856.8 803.3)"><use href="#bx" class="r"/><g class="v"><text y="12.4">1</text><text y="30.2">-0.46</text><text y="48">-0.46</text><text y="65.8">0.14</text><text y="83.6">-0.39</text></g></g>
<g id="g22" class="n" transform="translate(1898.8 803.3)"><use href="#bx" class="r"/><g class="v"><text y="12.4">1</text><text y="30.2">-0.34</text><text y="48">-0.34</text><text y="65.8">0.18</text><text y="83.6">-0.25</text></g></g>
<g id="g23" class="n" transform="translate(1991.2 803.3)"><use href="#bx" class="r"/><g class="v"><text y="12.4">1</text><text y="30.2">-0.44</text><text y="48">-0.44</text><text y="65.8">0.14</text><text y="83.6">-0.37</text></g></g>
<g id="g24" class="n" transform="translate(2033.4 803.3)"><use href="#bx" class="r"/><g class="v"><text y="12.4">1</text><text y="30.2">-0.32</text><text y="48">-0.32</text><text y="65.8">0.18</text><text y="83.6">-0.23</text></g></g>

<g id="h1" class="n" transform="translate(500.8 931.7)"><use href="#bx" class="k"/><g class="v"><text y="12.4">1</text><text y="30.2">-1.00</text><text y="48">-1.00</text><text y="65.8">0.24</text><text y="83.6">-0.92</text></g></g>
<g id="h2" class="n" transform="translate(592.7 931.7)"><use href="#bx" class="k"/><g class="v"><text y="12.4">1</text><text y="30.2">-0.23</text><text y="48">-0.23</text><text y="65.8">0.24</text><text y="83.6">-0.13</text></g></g>
<g id="h3" class="n" transform="translate(716.7 931.7)"><use href="#bx" class="k"/><g class="v"><text y="12.4">1</text><text y="30.2">-0.26</text><text y="48">-0.26</text><text y="65.8">0.24</text><text y="83.6">-0.14</text></g></g>
<g id="h4" class="n" transform="translate(882.6 931.7)"><use href="#bx" class="k"/><g class="v"><text y="12.4">1</text><text y="30.2">-0.30</text><text y="48">-0.30</text><text y="65.8">0.24</text><text y="83.6">-0.16</text></g></g>
<g id="h5" class="n" transform="translate(1048.6 931.7)"><use href="#bx" class="k"/><g class="v"><text y="12.4">1</text><text y="30.2">-0.64</text><text y="48">-0.64</text><text y="65.8">0.31</text><text y="83.6">-0.53</text></g></g>
<g id="h6" class="n" transform="translate(1090.7 931.7)"><use href="#bx" class="k"/><g class="v"><text y="12.4">1</text><text y="30.2">-0.64</text><text y="48">-0.64</text><text y="65.8">0.24</text><text y="83.6">-0.49</text></g></g>
<g id="h7" class="n" transform="translate(1133 931.7)"><use href="#bx" class="k"/><g class="v"><text y="12.4">1</text><text y="30.2">-0.41</text><text y="48">-0.41</text><text y="65.8">0.24</text><text y="83.6">-0.33</text></g></g>
<g id="h8" class="n" transform="translate(1209.8 931.7)"><use href="#bx" class="k"/><g class="v"><text y="12.4">1</text><text y="30.2">-0.44</text><text y="48">-0.44</text><text y="65.8">0.24</text><text y="83.6">-0.34</text></g></g>
<g id="h9" class="n" transform="translate(1251.9 931.7)"><use href="#bx" class="k"/><g class="v"><text y="12.4">1</text><text y="30.2">-0.61</text><text y="48">-0.61</text><text y="65.8">0.24</text><text y="83.6">-0.53</text></g></g>
<g id="h10" class="n" transform="translate(1377.5 931.7)"><use href="#bx" class="k"/><g class="v"><text y="12.4">1</text><text y="30.2">-0.34</text><text y="48">-0.34</text><text y="65.8">0.37</text><text y="83.6">-0.21</text></g></g>
<g id="h11" class="n" transform="translate(1419.5 931.7)"><use href="#bx" class="k"/><g class="v"><text y="12.4">1</text><text y="30.2">-0.29</text><text y="48">-0.29</text><text y="65.8">0.31</text><text y="83.6">-0.18</text></g></g>
<g id="h12" class="n" transform="translate(1462 931.7)"><use href="#bx" class="k"/><g class="v"><text y="12.4">1</text><text y="30.2">-0.26</text><text y="48">-0.26</text><text y="65.8">0.24</text><text y="83.6">-0.09</text></g></g>
<g id="h13" class="n" transform="translate(1538.9 931.7)"><use href="#bx" class="k"/><g class="v"><text y="12.4">1</text><text y="30.2">-0.41</text><text y="48">-0.41</text><text y="65.8">0.24</text><text y="83.6">-0.31</text></g></g>
<g id="h14" class="n" transform="translate(1581 931.7)"><use href="#bx" class="k"/><g class="v"><text y="12.4">1</text><text y="30.2">-0.64</text><text y="48">-0.64</text><text y="65.8">0.24</text><text y="83.6">-0.55</text></g></g>
<g id="h15" class="n" transform="translate(1749.9 931.7)"><use href="#bx" class="k"/><g class="v"><text y="12.4">1</text><text y="30.2">-0.67</text><text y="48">-0.67</text><text y="65.8">0.31</text><text y="83.6">-0.56</text></g></g>
<g id="h16" class="n" transform="translate(1792.2 931.7)"><use href="#bx" class="k"/><g class="v"><text y="12.4">1</text><text y="30.2">-0.66</text><text y="48">-0.66</text><text y="65.8">0.24</text><text y="83.6">-0.50</text></g></g>
<g id="h17" class="n" transform="translate(1946.6 931.7)"><use href="#bx" class="r"/><g class="v"><text y="12.4">1</text><text y="30.2">-0.26</text><text y="48">-0.26</text><text y="65.8">0.18</text><text y="83.6">-0.17</text></g></g>
<g id="h18" class="n" transform="translate(2071.9 931.7)"><use href="#bx" class="r"/><g class="v"><text y="12.4">1</text><text y="30.2">-0.30</text><text y="48">-0.30</text><text y="65.8">0.18</text><text y="83.6">-0.20</text></g></g>
<g id="h19" class="n" transform="translate(2114 931.7)"><use href="#bx" class="r"/><g class="v"><text y="12.4">1</text><text y="30.2">-0.64</text><text y="48">-0.64</text><text y="65.8">0.18</text><text y="83.6">-0.58</text></g></g>
<g id="h20" class="n" transform="translate(2249.6 931.7)"><use href="#bx" class="r"/><g class="v"><text y="12.4">1</text><text y="30.2">-0.66</text><text y="48">-0.66</text><text y="65.8">0.18</text><text y="83.6">-0.59</text></g></g>
</svg>
